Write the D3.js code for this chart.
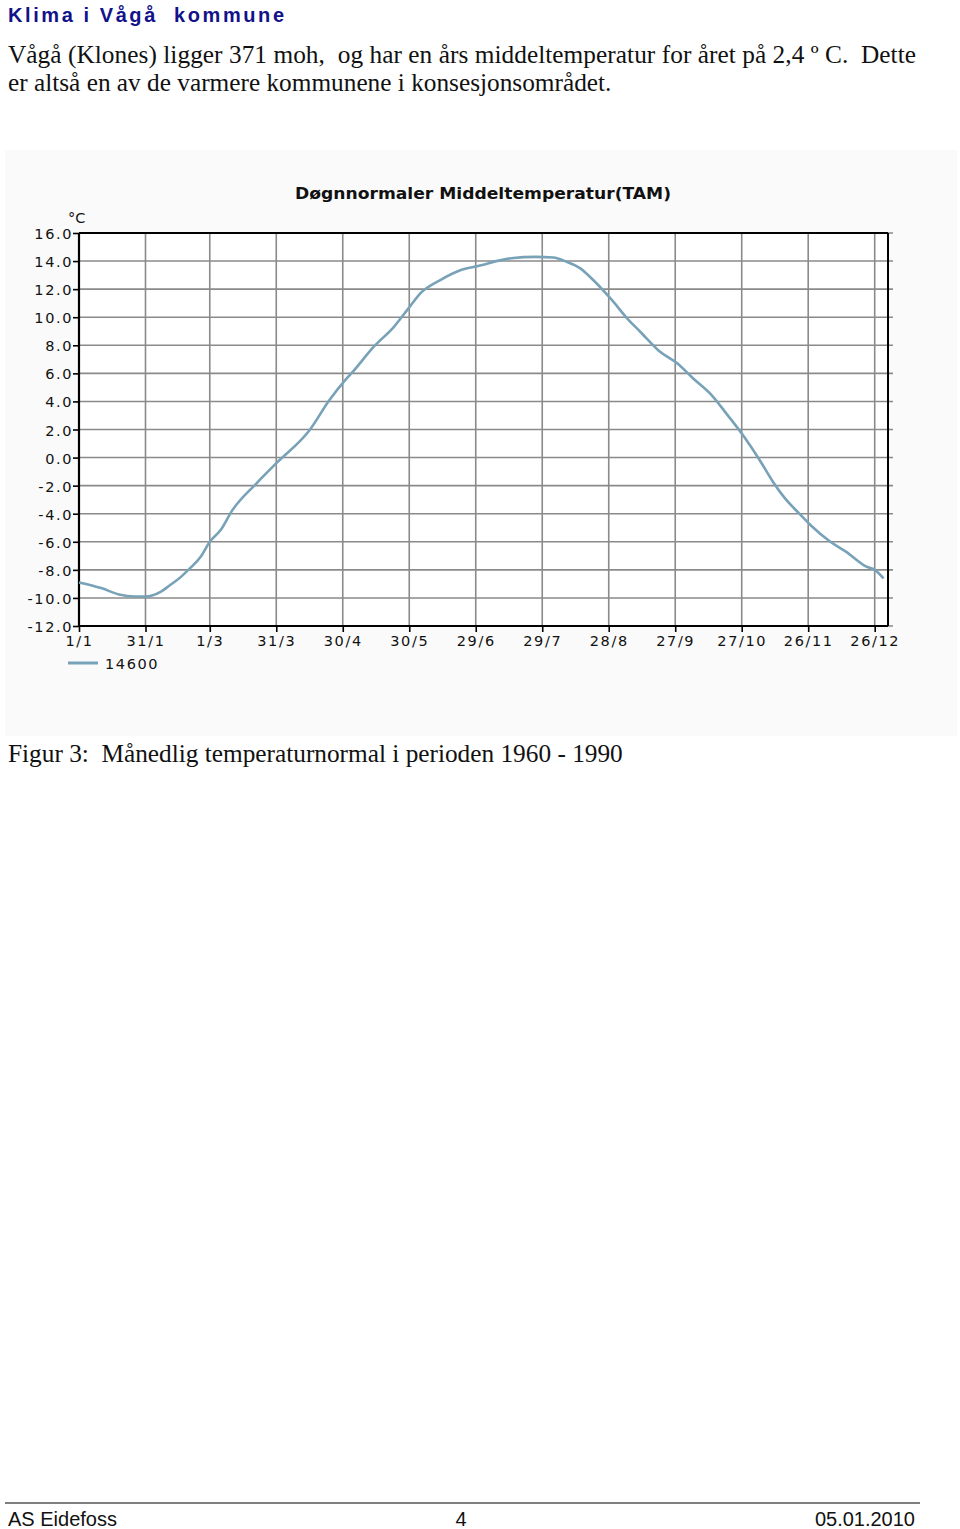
<!DOCTYPE html>
<html>
<head>
<meta charset="utf-8">
<script src="https://cdn.jsdelivr.net/npm/d3@7"></script>
<style>
  html, body { margin: 0; padding: 0; background: #ffffff; }
  svg { display: block; }
  text { white-space: pre; }
</style>
</head>
<body>
<script>
// ---- data ----
const days = [0,10,18,25,30,37,41,46,50,55,59,64,69,80,89,104,113,120,124,133,142,149,154,163,172,180,195,206,214,220,226,232,240,248,253,262,270,277,286,292,300,307,313,318,325,330,339,346,355,359,363];
const temps = [-8.9,-9.3,-9.75,-9.9,-9.9,-9.55,-9.1,-8.5,-7.9,-7.05,-6.0,-5.15,-3.8,-1.85,-0.4,1.95,4.1,5.5,6.2,7.9,9.3,10.7,11.7,12.65,13.35,13.65,14.2,14.3,14.25,13.95,13.5,12.65,11.3,9.8,9.0,7.55,6.7,5.65,4.35,3.15,1.5,-0.15,-1.7,-2.8,-4.0,-4.8,-6.0,-6.7,-7.75,-8.0,-8.6];
const tickDays = [0,30,59,89,119,149,179,209,239,269,299,329,359];
const tickLabels = ["1/1","31/1","1/3","31/3","30/4","30/5","29/6","29/7","28/8","27/9","27/10","26/11","26/12"];
const yTicks = [-12,-10,-8,-6,-4,-2,0,2,4,6,8,10,12,14,16];
const seriesName = "14600";
const chartTitle = "Døgnnormaler Middeltemperatur(TAM)";
const unitLabel = "°C";

const W = 960, H = 1529;
const svg = d3.select("body").append("svg").attr("width", W).attr("height", H);

// ---- page text ----
svg.append("text").attr("x", 8).attr("y", 22)
  .attr("font-family", "Liberation Sans, Arial, sans-serif").attr("font-weight", "bold")
  .attr("font-size", 20).attr("fill", "#12128a")
  .attr("textLength", 276).attr("lengthAdjust", "spacing")
  .text("Klima i Vågå  kommune");

const serif = "Liberation Serif, Times New Roman, serif";
svg.append("text").attr("x", 8).attr("y", 63)
  .attr("font-family", serif).attr("font-size", 25.3).attr("fill", "#111")
  .attr("textLength", 908).attr("lengthAdjust", "spacing")
  .text("Vågå (Klones) ligger 371 moh,  og har en års middeltemperatur for året på 2,4 º C.  Dette");
svg.append("text").attr("x", 8).attr("y", 91)
  .attr("font-family", serif).attr("font-size", 25.3).attr("fill", "#111")
  .text("er altså en av de varmere kommunene i konsesjonsområdet.");

// ---- chart panel ----
svg.append("rect").attr("x", 5).attr("y", 150).attr("width", 952).attr("height", 586).attr("fill", "#fafafa");

const x = d3.scaleLinear().domain([0, 365]).range([79, 888]);
const y = d3.scaleLinear().domain([-12, 16]).range([626, 233]);

svg.append("rect").attr("x", x(0)).attr("y", y(16)).attr("width", x(365) - x(0)).attr("height", y(-12) - y(16)).attr("fill", "#ffffff");

svg.append("text").attr("x", 483).attr("y", 199).attr("text-anchor", "middle")
  .attr("font-family", "DejaVu Sans, Verdana, sans-serif").attr("font-weight", "bold")
  .attr("font-size", 16).attr("fill", "#111")
  .attr("textLength", 376).attr("lengthAdjust", "spacingAndGlyphs")
  .text(chartTitle);

// grid
const grid = svg.append("g");
grid.selectAll("line.h").data(yTicks).join("line")
  .attr("x1", x(0)).attr("x2", x(365) + 5).attr("y1", d => y(d)).attr("y2", d => y(d))
  .attr("stroke", "#8a8a8a").attr("stroke-width", 1.6);
grid.selectAll("line.v").data(tickDays).join("line")
  .attr("x1", d => x(d)).attr("x2", d => x(d)).attr("y1", y(16)).attr("y2", y(-12))
  .attr("stroke", "#8a8a8a").attr("stroke-width", 1.6);

// borders
svg.append("line").attr("x1", x(0)).attr("x2", x(365)).attr("y1", y(16)).attr("y2", y(16)).attr("stroke", "#000").attr("stroke-width", 2);
svg.append("line").attr("x1", x(365)).attr("x2", x(365)).attr("y1", y(16)).attr("y2", y(-12)).attr("stroke", "#000").attr("stroke-width", 2);

// axes
const axFont = "DejaVu Sans, Verdana, sans-serif";
const yAxis = svg.append("g").attr("transform", `translate(${x(0)},0)`)
  .call(d3.axisLeft(y).tickValues(yTicks).tickFormat(d => d.toFixed(1)).tickSize(6).tickPadding(0));
const xAxis = svg.append("g").attr("transform", `translate(0,${y(-12)})`)
  .call(d3.axisBottom(x).tickValues(tickDays).tickFormat((d, i) => tickLabels[i]).tickSize(6).tickPadding(2));
[yAxis, xAxis].forEach(g => {
  g.select(".domain").attr("stroke", "#000").attr("stroke-width", 2.2);
  g.selectAll(".tick line").attr("stroke", "#000").attr("stroke-width", 1.6);
  g.selectAll(".tick text").attr("font-family", axFont).attr("font-size", 14.5)
    .attr("fill", "#111").attr("letter-spacing", "1.6px");
});
yAxis.selectAll(".tick text").attr("dy", "0.38em");
xAxis.selectAll(".tick text").attr("y", 15).attr("dy", "0.36em");
xAxis.select(".domain").attr("d", `M${x(0)},0H${x(365)}`);
yAxis.select(".domain").attr("d", `M0,${y(16)}V${y(-12)}`);

svg.append("text").attr("x", 68).attr("y", 223)
  .attr("font-family", axFont).attr("font-size", 14.5).attr("fill", "#111").text(unitLabel);

// line
const pts = days.map((d, i) => [d, temps[i]]);
svg.append("path").datum(pts)
  .attr("fill", "none").attr("stroke", "#78a2b8").attr("stroke-width", 2.6)
  .attr("d", d3.line().x(d => x(d[0])).y(d => y(d[1])).curve(d3.curveMonotoneX));

// legend
svg.append("line").attr("x1", 68).attr("x2", 98).attr("y1", 663).attr("y2", 663)
  .attr("stroke", "#78a2b8").attr("stroke-width", 3);
svg.append("text").attr("x", 105).attr("y", 668.5)
  .attr("font-family", axFont).attr("font-size", 14.5).attr("fill", "#111")
  .attr("letter-spacing", "1.6px").text(seriesName);

// caption
svg.append("text").attr("x", 8).attr("y", 762)
  .attr("font-family", serif).attr("font-size", 25.3).attr("fill", "#111")
  .text("Figur 3:  Månedlig temperaturnormal i perioden 1960 - 1990");

// footer
svg.append("line").attr("x1", 5).attr("x2", 920).attr("y1", 1503).attr("y2", 1503)
  .attr("stroke", "#555").attr("stroke-width", 1.5);
const sans = "Liberation Sans, Arial, sans-serif";
svg.append("text").attr("x", 8).attr("y", 1526).attr("font-family", sans).attr("font-size", 20).attr("fill", "#111").text("AS Eidefoss");
svg.append("text").attr("x", 461).attr("y", 1526).attr("text-anchor", "middle").attr("font-family", sans).attr("font-size", 20).attr("fill", "#111").text("4");
svg.append("text").attr("x", 915).attr("y", 1526).attr("text-anchor", "end").attr("font-family", sans).attr("font-size", 20).attr("fill", "#111").text("05.01.2010");
</script>
</body>
</html>
